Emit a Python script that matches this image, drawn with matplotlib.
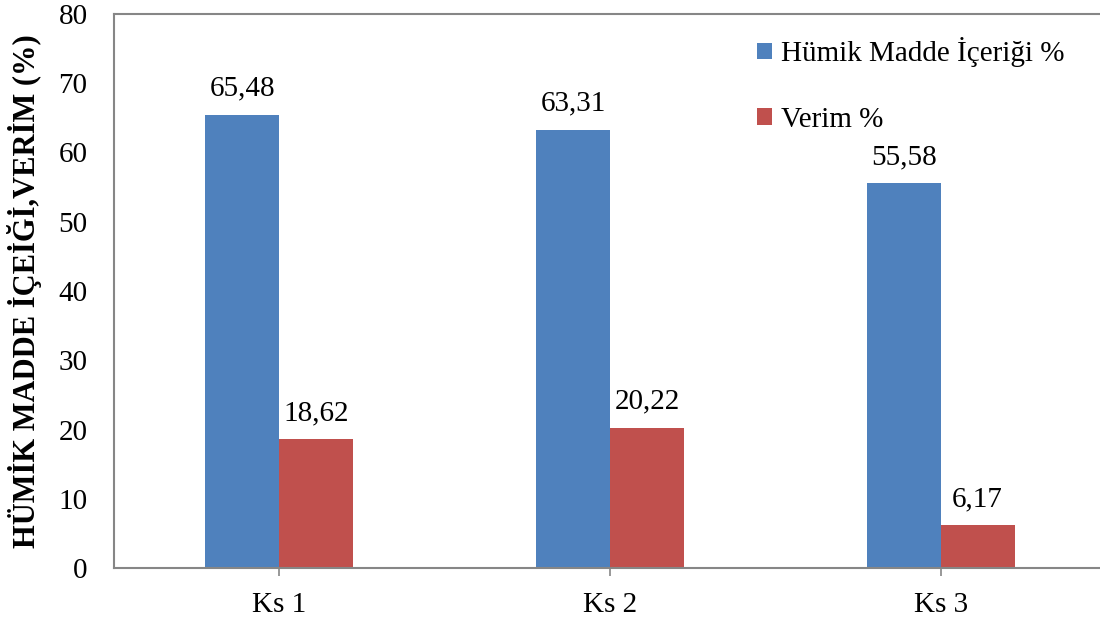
import matplotlib
matplotlib.use("Agg")
import matplotlib.pyplot as plt
import numpy as np

categories = ["Ks 1", "Ks 2", "Ks 3"]
humik = [65.48, 63.31, 55.58]
verim = [18.62, 20.22, 6.17]
humik_labels = ["65,48", "63,31", "55,58"]
verim_labels = ["18,62", "20,22", "6,17"]
yticks = [0, 10, 20, 30, 40, 50, 60, 70, 80]

plt.rcParams['font.family'] = ['Liberation Serif', 'DejaVu Serif']

fig = plt.figure(figsize=(11, 6.2), dpi=100)
ax = fig.add_axes([114/1100, 1 - 568/620, (1106 - 114)/1100, (568 - 14)/620])

x = np.arange(len(categories))
w = 0.2235
c_blue = '#4F81BD'
c_red = '#C0504D'
ax.bar(x - w/2, humik, w, color=c_blue, label='Hümik Madde İçeriği %')
ax.bar(x + w/2, verim, w, color=c_red, label='Verim %')

fs = 21
for xi, v, t in zip(x - w/2, humik, humik_labels):
    ax.text(xi, v + 1.9, t, ha='center', va='bottom', fontsize=fs)
for xi, v, t in zip(x + w/2, verim, verim_labels):
    ax.text(xi, v + 1.9, t, ha='center', va='bottom', fontsize=fs)

ax.set_xlim(-0.5, 2.5)
ax.set_ylim(0, 80)
ax.set_yticks(yticks)
ax.set_yticklabels([str(t) for t in yticks], fontsize=fs)
ax.set_xticks(x)
ax.set_xticklabels(categories, fontsize=fs)
ax.tick_params(axis='y', length=0, pad=19)
ax.tick_params(axis='x', length=6, width=1.2, color='#868686', pad=11)
for s in ax.spines.values():
    s.set_color('#868686')
    s.set_linewidth(1.5)
ax.spines['right'].set_visible(False)

ax.set_ylabel('HÜMİK MADDE İÇEİĞİ,VERİM (%)', fontsize=22, fontweight='bold', labelpad=12)

leg = ax.legend(loc='upper left', bbox_to_anchor=(0.622, 1.005), frameon=False,
                fontsize=fs, handlelength=0.5, handleheight=0.5,
                handletextpad=0.3, labelspacing=1.34)

fig.savefig('out.png', dpi=100)
